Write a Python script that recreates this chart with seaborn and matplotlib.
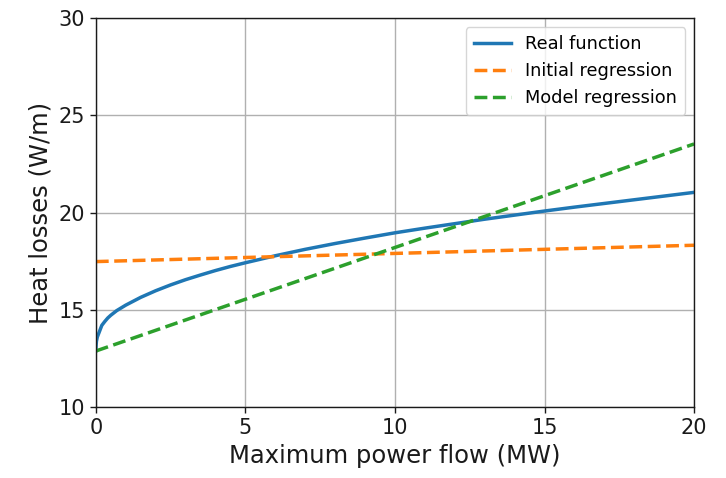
import matplotlib
matplotlib.use("Agg")
import matplotlib.pyplot as plt
import seaborn as sns
import pandas as pd

# Data
real_x = [0, 0.01, 0.02, 0.05, 0.1, 0.2, 0.3, 0.4, 0.5, 0.7, 1.0, 1.25, 1.5, 2, 2.5, 3, 3.5, 4, 4.5, 5,
          6, 7, 8, 9, 10, 11, 12, 13, 14, 15, 16, 17, 18, 19, 20]
real_y = [12.9, 13.2, 13.38, 13.6, 13.8, 14.2, 14.4, 14.58, 14.72, 14.96, 15.24, 15.44, 15.64, 15.98, 16.28, 16.55, 16.79, 17.02, 17.23, 17.42,
          17.78, 18.11, 18.41, 18.69, 18.96, 19.2, 19.43, 19.66, 19.87, 20.08, 20.28, 20.47, 20.66, 20.85, 21.04]
init_x = [0, 20]
init_y = [17.48, 18.32]
model_x = [0, 20]
model_y = [12.88, 23.53]
labels = ["Real function", "Initial regression", "Model regression"]

fig = plt.figure(figsize=(7.26, 4.78), dpi=100)
ax = fig.add_axes([0.132, 0.1485, 0.824, 0.8135])

df_real = pd.DataFrame({"x": real_x, "y": real_y})
df_init = pd.DataFrame({"x": init_x, "y": init_y})
df_model = pd.DataFrame({"x": model_x, "y": model_y})

lw = 2.5
sns.lineplot(data=df_real, x="x", y="y", ax=ax, color="#1f77b4", lw=lw, label=labels[0], sort=False)
sns.lineplot(data=df_init, x="x", y="y", ax=ax, color="#ff7f0e", lw=lw, label=labels[1], sort=False, linestyle="--")
sns.lineplot(data=df_model, x="x", y="y", ax=ax, color="#2ca02c", lw=lw, label=labels[2], sort=False, linestyle="--")

ax.set_xlim(0, 20)
ax.set_ylim(10, 30)
ax.set_xticks([0, 5, 10, 15, 20])
ax.set_yticks([10, 15, 20, 25, 30])
ax.grid(True, color="#b0b0b0", lw=1.0)
ax.set_axisbelow(True)
ax.tick_params(labelsize=15, length=4.5, width=1.0, colors="#1a1a1a")
for s in ax.spines.values():
    s.set_linewidth(1.0)
    s.set_color("#1a1a1a")
ax.set_xlabel("Maximum power flow (MW)", fontsize=17.5, color="#1a1a1a")
ax.set_ylabel("Heat losses (W/m)", fontsize=17.5, color="#1a1a1a")
leg = ax.legend(loc="upper right", fontsize=12.8, frameon=True, borderpad=0.45, handlelength=2.1)
leg.get_frame().set_edgecolor("#cccccc")
leg.get_frame().set_alpha(0.8)

fig.savefig("out.png", dpi=100)
